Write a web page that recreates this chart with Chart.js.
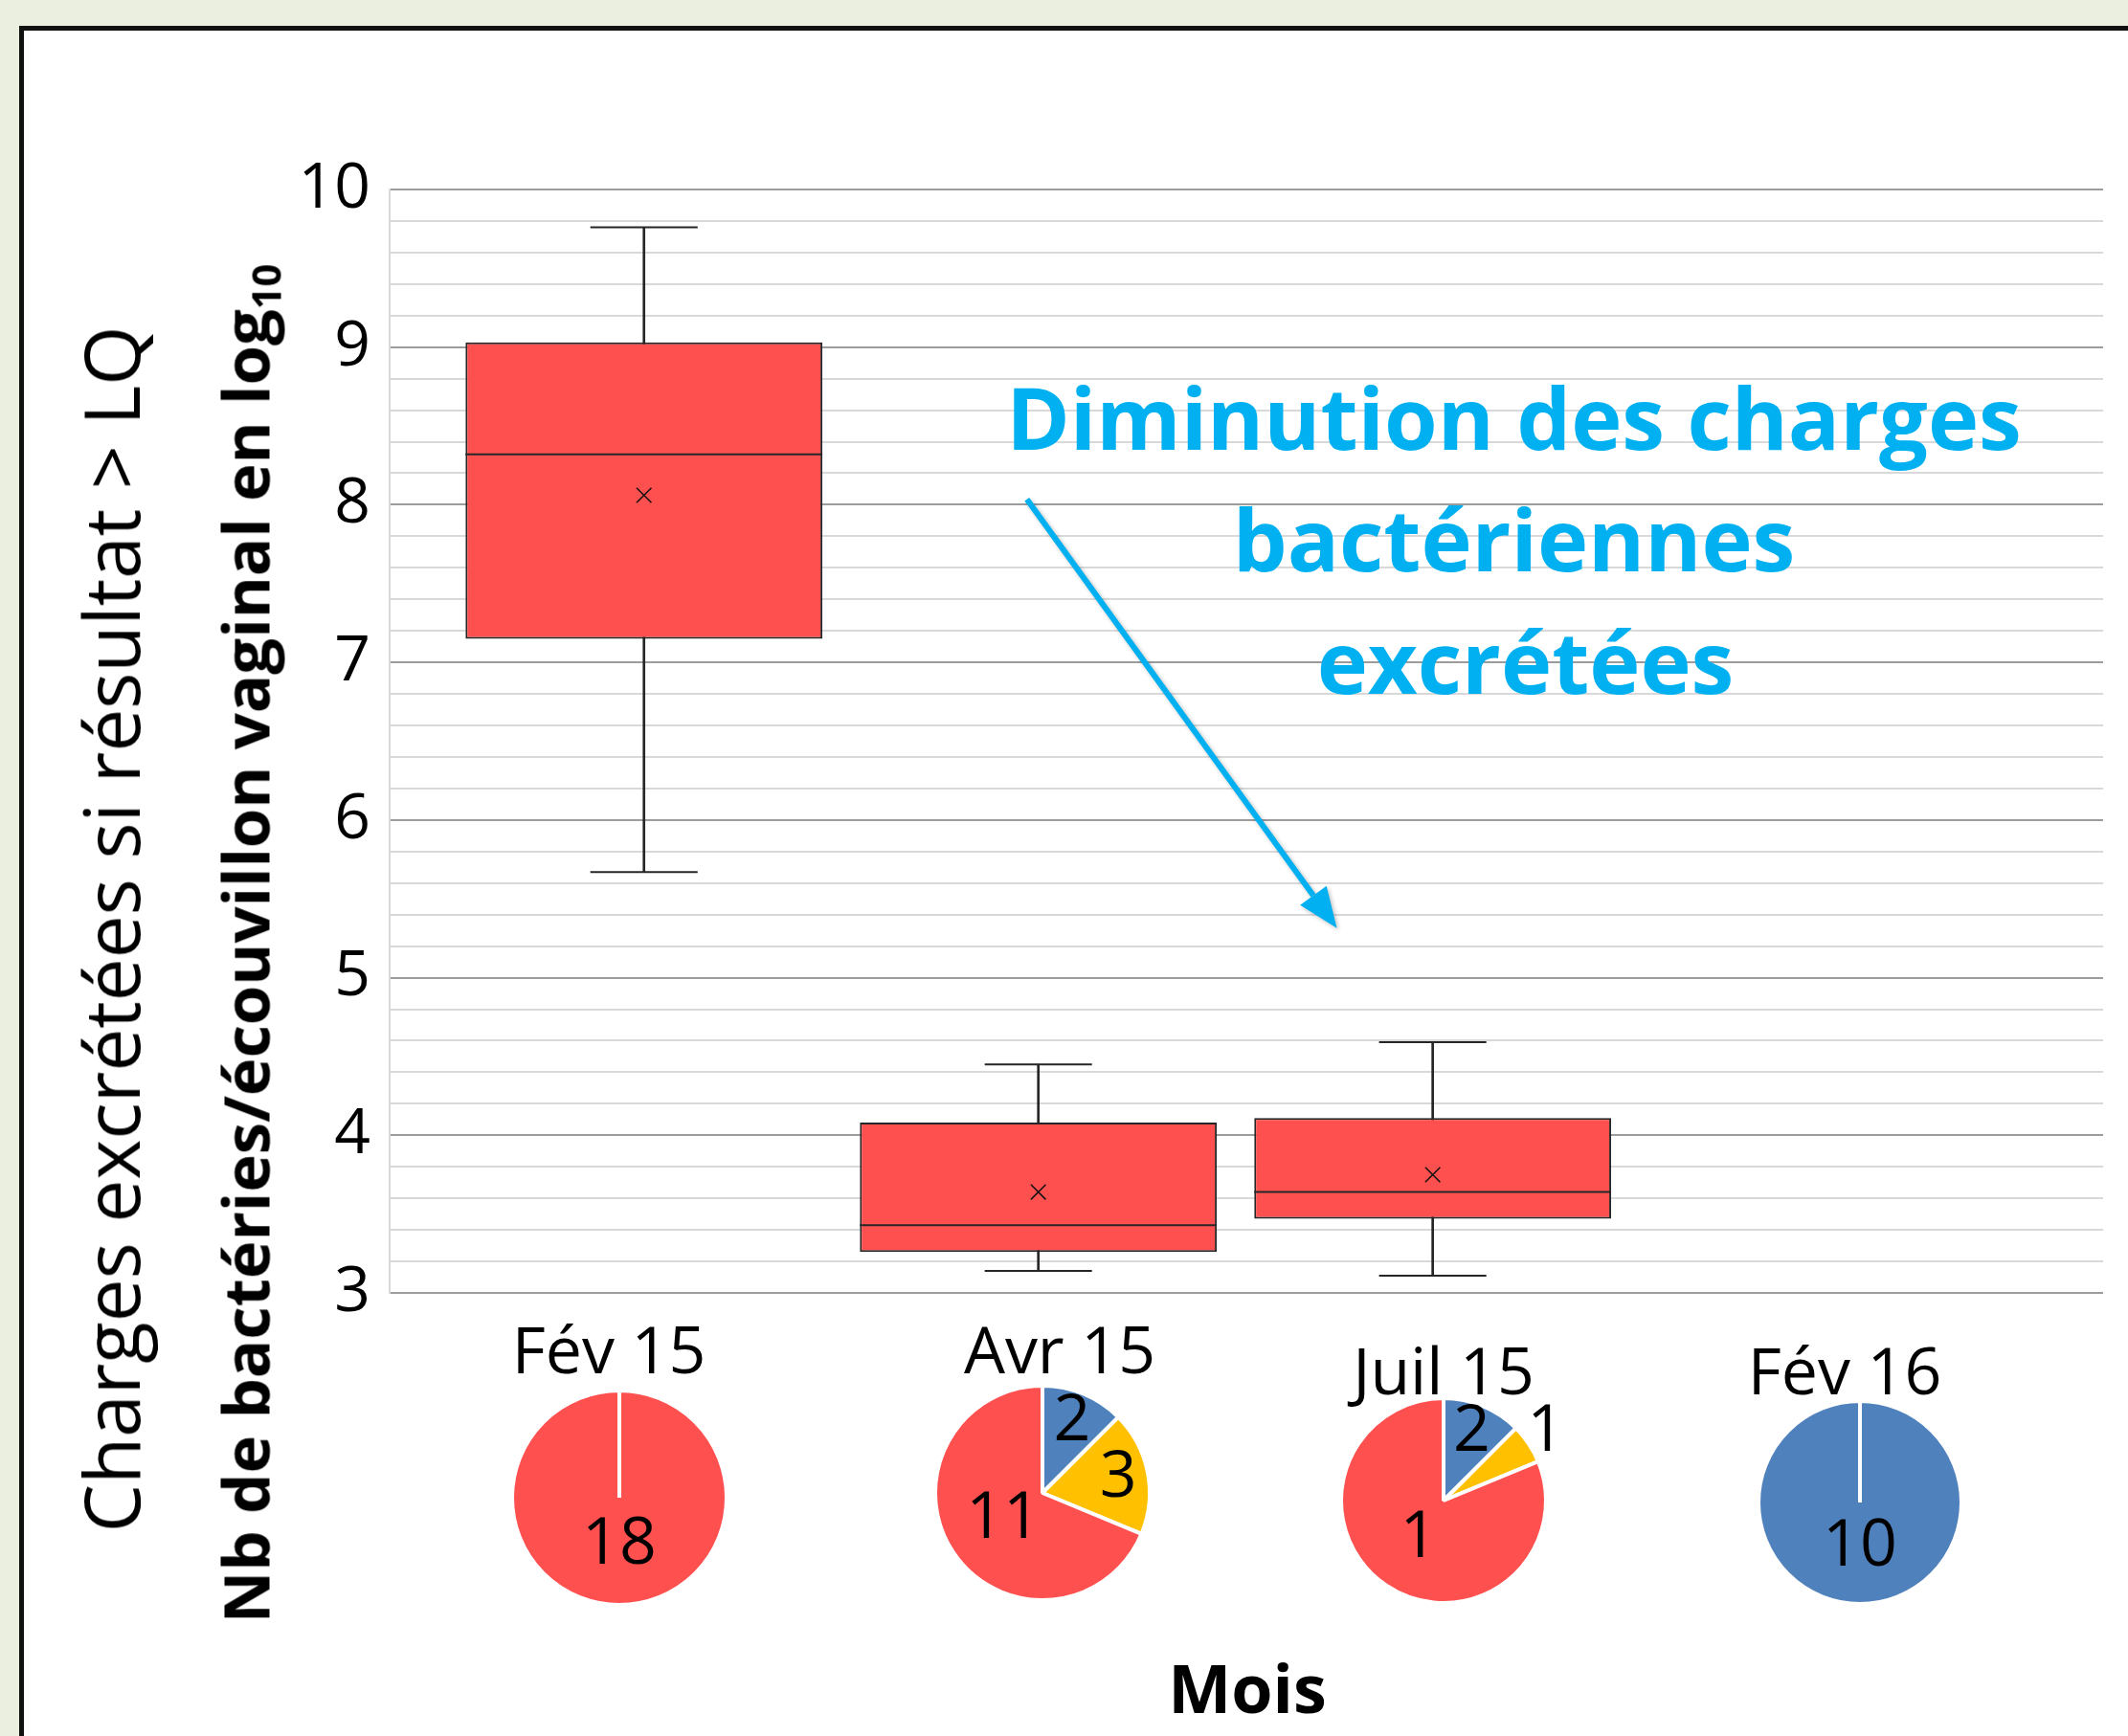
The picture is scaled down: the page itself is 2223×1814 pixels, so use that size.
<!DOCTYPE html>
<html lang="fr">
<head>
    <meta charset="UTF-8">
    <title>Charges bactériennes excrétées</title>
    <script src="https://cdn.jsdelivr.net/npm/chart.js"></script>
    <style>
        html, body {
            margin: 0;
            padding: 0;
        }
        body {
            position: relative;
            width: 2223px;
            height: 1814px;
            overflow: hidden;
            background-color: #ebefdf;
            font-family: 'Open Sans', sans-serif;
            color: #000;
        }
        .cadre {
            position: absolute;
            left: 20px;
            top: 27px;
            width: 2400px;
            height: 2000px;
            border-left: 5px solid #111;
            border-top: 5px solid #111;
            background-color: #fff;
        }
        #boxChart {
            position: absolute;
            left: 0;
            top: 0;
        }
        .titre-y {
            position: absolute;
            white-space: nowrap;
            line-height: 1;
            transform: translate(-50%, -50%) rotate(-90deg);
        }
        .titre-y sub {
            font-size: 0.62em;
            line-height: 0;
            vertical-align: -0.3em;
        }
        .titre-mois, .titre-pie {
            position: absolute;
            width: 400px;
            text-align: center;
            white-space: nowrap;
        }
        .pie {
            position: absolute;
        }
    </style>
</head>
<body>
    <div class="cadre"></div>
    <canvas id="boxChart" width="2223" height="1814"></canvas>

    <div class="titre-y" style="left:115px; top:971px; font-size:80px;">Charges excrétées si résultat &gt; LQ</div>
    <div class="titre-y" style="left:256px; top:986px; font-size:67px; font-weight:700;">Nb de bactéries/écouvillon vaginal en log<sub>10</sub></div>
    <div class="titre-mois" style="left:1103px; top:1728px; font-size:70px; line-height:70px; font-weight:700;">Mois</div>

    <script>
        // boxplots (log10 des charges), une entrée par mois
        const mois = ['Fév 15', 'Avr 15', 'Juil 15', 'Fév 16'];
        const xPos = [1, 2, 3, 4];
        const whiskerMin = [5.67, 3.14, 3.11, null];
        const q1 = [7.15, 3.26, 3.47, null];
        const median = [8.32, 3.43, 3.64, null];
        const q3 = [9.03, 4.08, 4.11, null];
        const whiskerMax = [9.76, 4.45, 4.59, null];
        const mean = [8.06, 3.64, 3.75, null];

        // camemberts sous chaque mois
        const pieBlue = [0, 2, 2, 10];
        const pieYellow = [0, 3, 1, 0];
        const pieRed = [18, 11, 13, 0];
        const pieLabelText = [['', '', '18'], ['2', '3', '11'], ['2', '1', '1'], ['10', '', '']];

        // annotation (en unités des axes)
        const noteLines = ['Diminution des charges', 'bactériennes', 'excrétées'];
        const noteX = [3.206, 3.206, 3.235];
        const noteY = [8.35, 7.577, 6.80];
        const arrowFrom = [1.971, 8.035];
        const arrowTo = [2.757, 5.314];

        const pieLayout = [
            { cx: 647, cy: 1565, r: 112, titleX: 636, titleBase: 1435 },
            { cx: 1089, cy: 1560, r: 112, titleX: 1107, titleBase: 1435 },
            { cx: 1508, cy: 1568, r: 107, titleX: 1508, titleBase: 1457 },
            { cx: 1943, cy: 1570, r: 106, titleX: 1927, titleBase: 1457 }
        ];

        const red = '#ff5050';
        const blue = '#4f81bd';
        const yellow = '#ffc000';
        const cyan = '#00b0f0';
        const boxLine = '#262626';
        const boxWidth = 0.905;   // largeur des boîtes, en fraction de l'écart entre mois
        const capWidth = 0.272;   // largeur des traits d'extrémité

        function isMajor(v) {
            return Math.abs(v - Math.round(v)) < 1e-6;
        }

        // segments horizontaux centrés sur chaque mois (null = coupure)
        function segments(values, width) {
            const pts = [];
            xPos.forEach((x, i) => {
                if (values[i] === null) return;
                pts.push({ x: x - width / 2, y: values[i] }, { x: x + width / 2, y: values[i] }, { x: x + width / 2, y: null });
            });
            return pts;
        }

        const annotationPlugin = {
            id: 'annotation',
            afterDatasetsDraw(chart) {
                const { ctx, scales: { x, y } } = chart;
                ctx.save();

                // flèche
                const x0 = x.getPixelForValue(arrowFrom[0]);
                const y0 = y.getPixelForValue(arrowFrom[1]);
                const x1 = x.getPixelForValue(arrowTo[0]);
                const y1 = y.getPixelForValue(arrowTo[1]);
                const ang = Math.atan2(y1 - y0, x1 - x0);
                const headLen = 42, headHalf = 17;
                const bx = x1 - Math.cos(ang) * headLen;
                const by = y1 - Math.sin(ang) * headLen;
                ctx.shadowColor = 'rgba(0, 0, 0, 0.25)';
                ctx.shadowBlur = 4;
                ctx.shadowOffsetX = 2;
                ctx.shadowOffsetY = 2;
                ctx.strokeStyle = cyan;
                ctx.fillStyle = cyan;
                ctx.lineWidth = 6;
                ctx.beginPath();
                ctx.moveTo(x0, y0);
                ctx.lineTo(bx, by);
                ctx.stroke();
                ctx.beginPath();
                ctx.moveTo(x1, y1);
                ctx.lineTo(bx + Math.sin(ang) * headHalf, by - Math.cos(ang) * headHalf);
                ctx.lineTo(bx - Math.sin(ang) * headHalf, by + Math.cos(ang) * headHalf);
                ctx.closePath();
                ctx.fill();

                // texte
                ctx.shadowColor = 'transparent';
                ctx.font = 'bold 90px "Open Sans"';
                ctx.textAlign = 'center';
                ctx.textBaseline = 'alphabetic';
                noteLines.forEach((line, i) => {
                    ctx.fillText(line, x.getPixelForValue(noteX[i]), y.getPixelForValue(noteY[i]));
                });
                ctx.restore();
            }
        };

        new Chart(document.getElementById('boxChart'), {
            type: 'bar',
            data: {
                datasets: [
                    {
                        label: 'moustaches',
                        data: xPos.map((x, i) => ({ x, y: whiskerMin[i] === null ? null : [whiskerMin[i], whiskerMax[i]] })),
                        backgroundColor: boxLine,
                        barThickness: 2,
                        grouped: false,
                        order: 3
                    },
                    {
                        label: 'boîtes',
                        data: xPos.map((x, i) => ({ x, y: q1[i] === null ? null : [q1[i], q3[i]] })),
                        backgroundColor: red,
                        borderColor: boxLine,
                        borderWidth: 2,
                        borderSkipped: false,
                        barPercentage: boxWidth,
                        categoryPercentage: 1,
                        grouped: false,
                        order: 2
                    },
                    {
                        type: 'line',
                        label: 'médiane',
                        data: segments(median, boxWidth),
                        borderColor: boxLine,
                        borderWidth: 2,
                        pointRadius: 0,
                        spanGaps: false,
                        order: 1
                    },
                    {
                        type: 'line',
                        label: 'maximum',
                        data: segments(whiskerMax, capWidth),
                        borderColor: boxLine,
                        borderWidth: 2,
                        pointRadius: 0,
                        spanGaps: false,
                        order: 1
                    },
                    {
                        type: 'line',
                        label: 'minimum',
                        data: segments(whiskerMin, capWidth),
                        borderColor: boxLine,
                        borderWidth: 2,
                        pointRadius: 0,
                        spanGaps: false,
                        order: 1
                    },
                    {
                        type: 'scatter',
                        label: 'moyenne',
                        data: xPos.map((x, i) => ({ x, y: mean[i] })),
                        pointStyle: 'crossRot',
                        pointRadius: 11,
                        pointBorderColor: '#111',
                        pointBorderWidth: 1.5,
                        order: 1
                    }
                ]
            },
            options: {
                responsive: false,
                animation: false,
                layout: { padding: { left: 277, top: 198, right: 26, bottom: 463 } },
                plugins: {
                    legend: { display: false },
                    tooltip: { enabled: false }
                },
                scales: {
                    x: {
                        type: 'linear',
                        min: 0.355,
                        max: 4.7,
                        offset: false,
                        display: false,
                        ticks: { stepSize: 1, includeBounds: false },
                        grid: { display: false }
                    },
                    y: {
                        min: 3,
                        max: 10,
                        afterFit: (scale) => { scale.width = 130; },
                        border: { display: true, color: '#d9d9d9', width: 2 },
                        grid: {
                            color: (ctx) => (ctx.tick && isMajor(ctx.tick.value)) ? '#9c9c9c' : '#d9d9d9',
                            lineWidth: 2,
                            drawTicks: false
                        },
                        ticks: {
                            stepSize: 0.2,
                            autoSkip: false,
                            padding: 20,
                            color: '#000',
                            font: { family: 'Open Sans', size: 66 },
                            callback: (v) => isMajor(v) ? String(Math.round(v)) : ''
                        }
                    }
                }
            },
            plugins: [annotationPlugin]
        });

        // étiquettes des parts de camembert
        const pieLabelPlugin = {
            id: 'pieLabels',
            afterDatasetsDraw(chart) {
                const { ctx } = chart;
                const texts = chart.options.plugins.pieLabels.texts;
                ctx.save();
                ctx.font = '68px "Open Sans"';
                ctx.fillStyle = '#000';
                ctx.textAlign = 'center';
                ctx.textBaseline = 'middle';
                chart.getDatasetMeta(0).data.forEach((arc, i) => {
                    const p = arc.getProps(['x', 'y', 'startAngle', 'endAngle', 'outerRadius', 'circumference']);
                    if (!p.circumference || !texts[i]) return;
                    const frac = p.circumference / (2 * Math.PI);
                    const f = frac >= 0.5 ? 0.44 : (frac < 0.1 ? 1.2 : 0.72);
                    const mid = (p.startAngle + p.endAngle) / 2;
                    ctx.fillText(texts[i], p.x + Math.cos(mid) * p.outerRadius * f, p.y + Math.sin(mid) * p.outerRadius * f);
                });
                ctx.restore();
            }
        };

        mois.forEach((m, i) => {
            const lay = pieLayout[i];
            const wrap = document.createElement('div');
            wrap.className = 'pie';
            wrap.style.left = (lay.cx - 180) + 'px';
            wrap.style.top = (lay.cy - 150) + 'px';
            const canvas = document.createElement('canvas');
            canvas.width = 360;
            canvas.height = 300;
            wrap.appendChild(canvas);
            document.body.appendChild(wrap);

            const title = document.createElement('div');
            title.className = 'titre-pie';
            title.textContent = m;
            title.style.left = (lay.titleX - 200) + 'px';
            title.style.top = (lay.titleBase - 60) + 'px';
            title.style.fontSize = '68px';
            title.style.lineHeight = '68px';
            document.body.appendChild(title);

            new Chart(canvas, {
                type: 'pie',
                data: {
                    labels: ['Bleu', 'Jaune', 'Rouge'],
                    datasets: [{
                        data: [pieBlue[i], pieYellow[i], pieRed[i]],
                        backgroundColor: [blue, yellow, red],
                        borderColor: '#fff',
                        borderWidth: 4
                    }]
                },
                options: {
                    responsive: false,
                    animation: false,
                    radius: lay.r,
                    plugins: {
                        legend: { display: false },
                        tooltip: { enabled: false },
                        pieLabels: { texts: pieLabelText[i] }
                    }
                },
                plugins: [pieLabelPlugin]
            });
        });
    </script>
</body>
</html>
